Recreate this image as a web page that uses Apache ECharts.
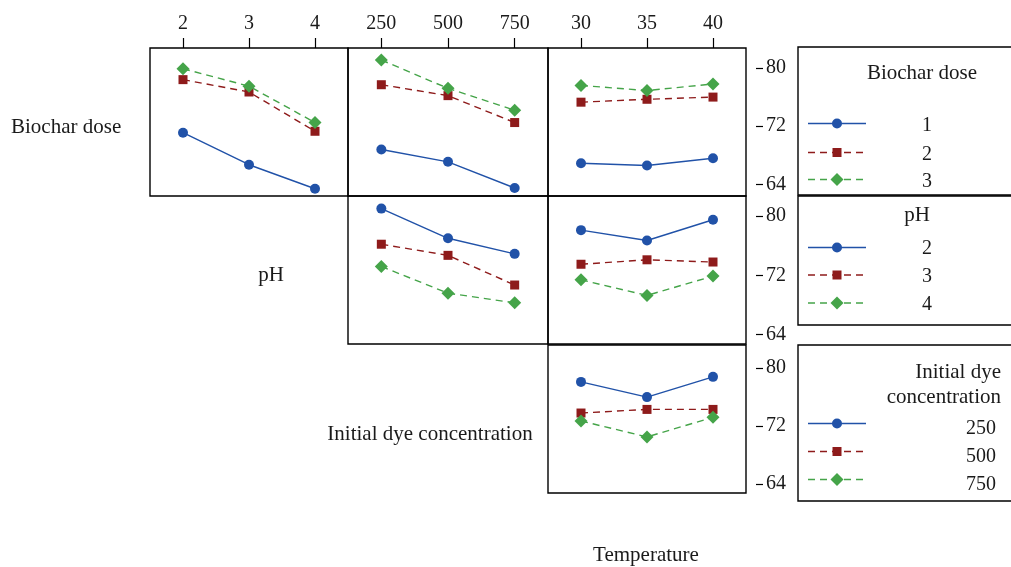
<!DOCTYPE html>
<html>
<head>
<meta charset="utf-8">
<script src="https://cdn.jsdelivr.net/npm/echarts@6/dist/echarts.min.js"></script>
<style>html,body{margin:0;padding:0;background:#fff}#c{width:1011px;height:567px}</style>
</head>
<body>
<div id="c"></div>
<script>
// ---- factor levels (tick labels) ----
const biocharLevels = ['1', '2', '3'];
const phLevels = ['2', '3', '4'];
const dyeLevels = ['250', '500', '750'];
const tempLevels = ['30', '35', '40'];
const yTickValues = [64, 72, 80];

// ---- row "Biochar dose": lines per biochar level ----
const bdByPh_1 = [71.1, 66.7, 63.4];
const bdByPh_2 = [78.4, 76.7, 71.3];
const bdByPh_3 = [79.9, 77.5, 72.5];
const bdByDye_1 = [68.8, 67.1, 63.5];
const bdByDye_2 = [77.7, 76.2, 72.5];
const bdByDye_3 = [81.1, 77.2, 74.2];
const bdByTemp_1 = [66.9, 66.6, 67.6];
const bdByTemp_2 = [75.3, 75.7, 76.0];
const bdByTemp_3 = [77.6, 76.9, 77.8];
// ---- row "pH": lines per pH level ----
const phByDye_2 = [81.0, 77.0, 74.9];
const phByDye_3 = [76.2, 74.7, 70.7];
const phByDye_4 = [73.2, 69.6, 68.3];
const phByTemp_2 = [78.1, 76.7, 79.5];
const phByTemp_3 = [73.5, 74.1, 73.8];
const phByTemp_4 = [71.4, 69.3, 71.9];
// ---- row "Initial dye concentration": lines per dye level ----
const dyeByTemp_250 = [78.1, 76.0, 78.8];
const dyeByTemp_500 = [73.8, 74.3, 74.3];
const dyeByTemp_750 = [72.7, 70.5, 73.2];

const FONT = 'Liberation Serif';
const TXT = '#1a1a1a';
const BLUE = '#2152a8', RED = '#8e1b1b', GREEN = '#45a449';

const colsPx = [[150, 348], [348, 548], [548, 746]];
const rowsPx = [[48, 196], [196, 344], [345, 493]];
const rowRange = [[62.4, 82.75], [62.75, 82.7], [62.75, 83.2]];

const panels = [
  {r: 0, c: 0, cats: phLevels, data: [bdByPh_1, bdByPh_2, bdByPh_3], names: biocharLevels},
  {r: 0, c: 1, cats: dyeLevels, data: [bdByDye_1, bdByDye_2, bdByDye_3], names: biocharLevels},
  {r: 0, c: 2, cats: tempLevels, data: [bdByTemp_1, bdByTemp_2, bdByTemp_3], names: biocharLevels},
  {r: 1, c: 1, cats: dyeLevels, data: [phByDye_2, phByDye_3, phByDye_4], names: phLevels},
  {r: 1, c: 2, cats: tempLevels, data: [phByTemp_2, phByTemp_3, phByTemp_4], names: phLevels},
  {r: 2, c: 2, cats: tempLevels, data: [dyeByTemp_250, dyeByTemp_500, dyeByTemp_750], names: dyeLevels}
];

const styles = [
  {color: BLUE, symbol: 'circle', size: 10, dash: 'solid'},
  {color: RED, symbol: 'rect', size: 9, dash: [7, 5]},
  {color: GREEN, symbol: 'diamond', size: 13, dash: [7, 5]}
];

const grid = [], xAxis = [], yAxis = [], series = [];
panels.forEach((p, i) => {
  const cx = colsPx[p.c], ry = rowsPx[p.r];
  grid.push({left: cx[0], top: ry[0], width: cx[1] - cx[0], height: ry[1] - ry[0],
    show: true, borderColor: '#000', borderWidth: 1.4, backgroundColor: 'transparent'});
  const topRow = p.r === 0;
  xAxis.push({type: 'category', gridIndex: i, data: p.cats, position: 'top', boundaryGap: true,
    axisLine: {show: false},
    axisTick: {show: topRow, alignWithLabel: true, length: 10, lineStyle: {color: '#000', width: 1.2}},
    axisLabel: {show: topRow, fontFamily: FONT, fontSize: 20, color: TXT, margin: 14},
    splitLine: {show: false}});
  const rightCol = p.c === 2;
  yAxis.push({type: 'value', gridIndex: i, position: 'right', offset: 10,
    min: rowRange[p.r][0], max: rowRange[p.r][1],
    axisLine: {show: false}, splitLine: {show: false},
    axisTick: {show: rightCol, length: 7, customValues: yTickValues, lineStyle: {color: '#000', width: 1.2}},
    axisLabel: {show: rightCol, customValues: yTickValues, fontFamily: FONT, fontSize: 20, color: TXT, margin: 10}});
  p.data.forEach((d, k) => {
    const s = styles[k];
    series.push({type: 'line', name: p.names[k], xAxisIndex: i, yAxisIndex: i, data: d,
      symbol: s.symbol, symbolSize: s.size, showSymbol: true,
      lineStyle: {color: s.color, width: 1.4, type: s.dash},
      itemStyle: {color: s.color}, z: 2 + k, silent: true, animation: false});
  });
});

// ---- graphic: row labels and legend boxes ----
function txt(x, y, t, align, size) {
  return {type: 'text', x: x, y: y, style: {text: t, font: (size || 20) + 'px "' + FONT + '"', fill: TXT,
    textAlign: align || 'center', textVerticalAlign: 'middle'}};
}
function legendSymbol(k, y) {
  const s = styles[k], els = [];
  els.push({type: 'line', shape: {x1: 808, y1: y, x2: 866, y2: y},
    style: {stroke: s.color, lineWidth: 1.3, lineDash: k === 0 ? null : [7, 5]}});
  const cx = 837;
  if (k === 0) els.push({type: 'circle', shape: {cx: cx, cy: y, r: 5}, style: {fill: s.color}});
  else if (k === 1) els.push({type: 'rect', shape: {x: cx - 4.5, y: y - 4.5, width: 9, height: 9}, style: {fill: s.color}});
  else els.push({type: 'polygon', shape: {points: [[cx, y - 6.5], [cx + 6.5, y], [cx, y + 6.5], [cx - 6.5, y]]}, style: {fill: s.color}});
  return els;
}
const g = [];
g.push(txt(11, 127, 'Biochar dose', 'left', 21));
g.push(txt(271, 275, 'pH', 'center', 21));
g.push(txt(430, 434, 'Initial dye concentration', 'center', 21));
g.push(txt(646, 555, 'Temperature', 'center', 21));
// legend boxes
g.push({type: 'rect', shape: {x: 798, y: 47, width: 230, height: 148}, style: {fill: 'none', stroke: '#000', lineWidth: 1.4}});
g.push({type: 'rect', shape: {x: 798, y: 196, width: 230, height: 129}, style: {fill: 'none', stroke: '#000', lineWidth: 1.4}});
g.push({type: 'rect', shape: {x: 798, y: 345, width: 230, height: 156}, style: {fill: 'none', stroke: '#000', lineWidth: 1.4}});
g.push(txt(922, 73, 'Biochar dose', 'center', 21));
[123.5, 152.5, 179.5].forEach((y, k) => { g.push(...legendSymbol(k, y)); g.push(txt(927, y + 2, biocharLevels[k])); });
g.push(txt(917, 215, 'pH', 'center', 21));
[247.5, 275, 303].forEach((y, k) => { g.push(...legendSymbol(k, y)); g.push(txt(927, y + 1.5, phLevels[k])); });
g.push(txt(1001, 372, 'Initial dye', 'right', 21));
g.push(txt(1001, 397, 'concentration', 'right', 21));
[423.5, 451.5, 479.5].forEach((y, k) => { g.push(...legendSymbol(k, y)); g.push(txt(996, y + 5, dyeLevels[k], 'right')); });

const chart = echarts.init(document.getElementById('c'), null, {renderer: 'canvas'});
chart.setOption({backgroundColor: '#fff', animation: false, grid, xAxis, yAxis, series, graphic: g});
</script>
</body>
</html>
